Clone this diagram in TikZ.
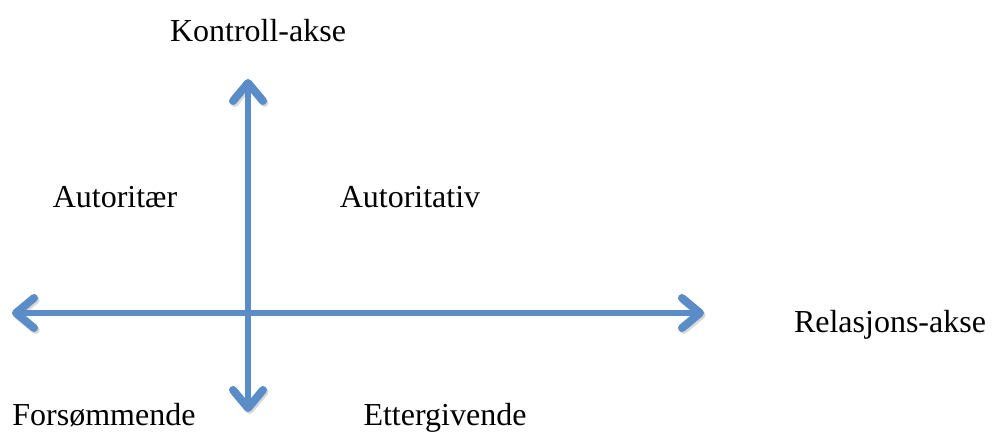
\documentclass[tikz,border=0pt]{standalone}
\usepackage{fontspec}
\setmainfont{Liberation Serif}
\usepackage{tikz}
\usetikzlibrary{arrows.meta}
\definecolor{axisblue}{HTML}{5A8DC8}
\tikzstyle{axis} = [draw=axisblue, line width=3pt, line cap=round,
    {Straight Barb[round, line width=4pt, length=9pt, width=15pt]}-{Straight Barb[round, line width=4pt, length=9pt, width=15pt]},
    preaction={draw=black!30, opacity=0.5, transform canvas={shift={(0.8pt,-1pt)}}}]
\tikzstyle{label} = [font=\fontsize{16}{19}\selectfont, inner sep=0pt, anchor=base]

\begin{document}
\begin{tikzpicture}[x=0.5pt, y=-0.5pt]
\useasboundingbox (0,0) rectangle (992,433);
% axis ends
\coordinate (left) at (12,313);
\coordinate (right) at (704,313);
\coordinate (top) at (248,79);
\coordinate (bottom) at (248,412);
\draw[axis] (left) -- (right);
\draw[axis] (bottom) -- (top);
% labels
\node[label] (kontroll) at (258,42) {Kontroll-akse};
\node[label] (relasjon) at (890,332) {Relasjons-akse};
\node[label] (autoritaer) at (115,208) {Autoritær};
\node[label] (autoritativ) at (410,208) {Autoritativ};
\node[label] (forsom) at (104,425) {Forsømmende};
\node[label] (etter) at (445,425) {Ettergivende};
\end{tikzpicture}
\end{document}
